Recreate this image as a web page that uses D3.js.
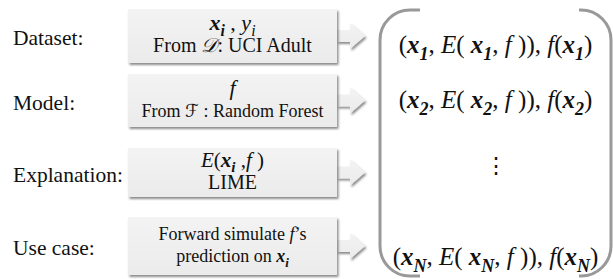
<!DOCTYPE html>
<html>
<head>
<meta charset="utf-8">
<script src="https://cdn.jsdelivr.net/npm/d3@7"></script>
<style>
  html, body { margin: 0; padding: 0; background: #fff; }
</style>
</head>
<body>
<div id="chart"></div>
<script>
// rows of the pipeline
const rows = ['dataset', 'model', 'explanation', 'usecase'];
const labels = ['Dataset:', 'Model:', 'Explanation:', 'Use case:'];

// box text: each line is a list of [text, style]; b=bold, i=italic, s=subscript, c=script
const boxLines = [
  [[['x', 'bi'], ['i', 'bis'], [' , ', ''], ['y', 'i'], ['i', 'is']],
   [['From ', ''], ['\u{1D49F}', 'c'], [': UCI Adult', '']]],
  [[['f', 'i']],
   [['From ', ''], ['\u2131', 'c'], [' : Random Forest', '']]],
  [[['E', 'i'], ['(', ''], ['x', 'bi'], ['i', 'bis'], [' ,', ''], ['f', 'i'], [' )', '']],
   [['LIME', '']]],
  [[['Forward simulate ', ''], ['f', 'i'], ['\u2019s', '']],
   [['prediction on ', ''], ['x', 'bi'], ['i', 'bis']]]
];

// output tuples
const tupleIds = ['1', '2', 'N'];
const tupleLines = tupleIds.map(k => [
  ['(', ''], ['x', 'bi'], [k, 'bis'], [', ', ''], ['E', 'i'], ['( ', ''],
  ['x', 'bi'], [k, 'bis'], [', ', ''], ['f', 'i'], [' )), ', ''],
  ['f', 'i'], ['(', ''], ['x', 'bi'], [k, 'bis'], [')', '']
]);

const width = 613, height = 279;
const serif = '"Liberation Serif", "Times New Roman", "DejaVu Serif", serif';

const svg = d3.select('#chart').append('svg')
    .attr('width', width)
    .attr('height', height)
    .attr('font-family', serif)
    .style('display', 'block');

const defs = svg.append('defs');
const shadow = defs.append('filter')
    .attr('id', 'shadow')
    .attr('x', '-10%').attr('y', '-10%')
    .attr('width', '130%').attr('height', '140%');
shadow.append('feDropShadow')
    .attr('dx', 1.5).attr('dy', 2)
    .attr('stdDeviation', 1.3)
    .attr('flood-color', '#000')
    .attr('flood-opacity', 0.45);

const grad = defs.append('linearGradient')
    .attr('id', 'boxfill')
    .attr('x1', 0).attr('y1', 0).attr('x2', 0).attr('y2', 1);
grad.append('stop').attr('offset', '0%').attr('stop-color', '#f3f3f3');
grad.append('stop').attr('offset', '100%').attr('stop-color', '#ebebeb');

// layout scales
const rowY = d3.scaleOrdinal().domain(rows).range([36, 100.5, 172.5, 246]);
const rowH = d3.scaleOrdinal().domain(rows).range([54, 53, 49, 58]);
const headFont = d3.scaleOrdinal().domain(rows).range([22, 22, 21, 18]);
const subFont = d3.scaleOrdinal().domain(rows).range([20, 18, 20, 18]);
const boxX = d3.scaleLinear().domain([0, 1]).range([128, 337]);

// writes a line of styled segments into a text element
function richText(text, segs, size) {
  const sub = size * 0.28;
  let shifted = false;
  segs.forEach(([t, st]) => {
    const ts = text.append('tspan').text(t);
    if (st.includes('b')) ts.attr('font-weight', 'bold');
    if (st.includes('i')) ts.attr('font-style', 'italic');
    if (st.includes('c')) ts.attr('font-family', '"DejaVu Serif", "DejaVu Sans", serif').attr('font-style', 'italic');
    if (st.includes('s')) {
      ts.attr('font-size', size * 0.72);
      if (!shifted) { ts.attr('dy', sub); shifted = true; }
    } else if (shifted) {
      ts.attr('dy', -sub); shifted = false;
    }
  });
}

// labels
svg.append('g').selectAll('text')
  .data(rows)
  .join('text')
    .attr('x', 13)
    .attr('y', d => rowY(d) + 9)
    .attr('font-size', 21.5)
    .attr('fill', '#111')
    .text((d, i) => labels[i]);

// arrows
const arrow = d => {
  const y = rowY(d), x0 = boxX(1), xs = x0 + 13, xt = x0 + 28;
  return `M${x0},${y - 6}H${xs}V${y - 13}L${xt},${y}L${xs},${y + 13}V${y + 6}H${x0}Z`;
};
svg.append('g').selectAll('path')
  .data(rows)
  .join('path')
    .attr('d', arrow)
    .attr('fill', 'url(#boxfill)')
    .attr('filter', 'url(#shadow)');

// boxes
const box = svg.append('g').selectAll('g')
  .data(rows)
  .join('g');

box.append('rect')
    .attr('x', boxX(0))
    .attr('y', d => rowY(d) - rowH(d) / 2)
    .attr('width', boxX(1) - boxX(0))
    .attr('height', d => rowH(d))
    .attr('fill', 'url(#boxfill)')
    .attr('filter', 'url(#shadow)');

box.each(function (d, i) {
  const g = d3.select(this);
  boxLines[i].forEach((line, j) => {
    const size = j === 0 ? headFont(d) : subFont(d);
    const t = g.append('text')
        .attr('x', (boxX(0) + boxX(1)) / 2)
        .attr('y', rowY(d) + (j === 0 ? -6 : 16))
        .attr('text-anchor', 'middle')
        .attr('font-size', size)
        .attr('fill', '#111');
    richText(t, line, size);
  });
});

// bracket on the right
const bx0 = 380, bx1 = 611, by0 = 10, by1 = 276, r = 30;
const bracket = svg.append('g')
    .attr('fill', 'none')
    .attr('stroke', '#999')
    .attr('stroke-width', 3);
bracket.append('path')
    .attr('d', `M${bx0 + 40},${by0}H${bx0 + r}A${r},${r} 0 0 0 ${bx0},${by0 + r}V${by1 - r}A${r},${r} 0 0 0 ${bx0 + r},${by1}H${bx0 + 40}`);
bracket.append('path')
    .attr('d', `M${bx1 - 32},${by0}H${bx1 - r}A${r},${r} 0 0 1 ${bx1},${by0 + r}V${by1 - r}A${r},${r} 0 0 1 ${bx1 - r},${by1}H${bx1 - 32}`);

// tuple lines
const tupleY = d3.scaleOrdinal().domain(tupleIds).range([53, 108, 265]);
const cx = (bx0 + bx1) / 2;
tupleIds.forEach((k, i) => {
  const t = svg.append('text')
      .attr('x', cx)
      .attr('y', tupleY(k))
      .attr('text-anchor', 'middle')
      .attr('font-size', 25)
      .attr('fill', '#111');
  richText(t, tupleLines[i], 25);
});

svg.append('text')
    .attr('x', cx)
    .attr('y', 173)
    .attr('text-anchor', 'middle')
    .attr('font-size', 22)
    .attr('fill', '#111')
    .text('\u22EE');
</script>
</body>
</html>
